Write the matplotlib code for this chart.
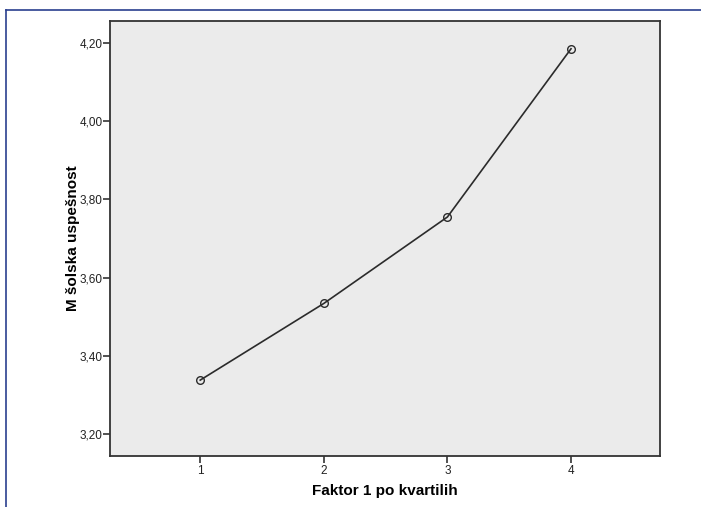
import matplotlib
matplotlib.use("Agg")
import matplotlib.pyplot as plt
from matplotlib.lines import Line2D
from matplotlib.ticker import FuncFormatter

plt.rcParams['font.family'] = ['Liberation Sans', 'DejaVu Sans']

kvartili = [1, 2, 3, 4]
uspesnost = [3.338, 3.534, 3.755, 4.185]
y_ticks = [3.20, 3.40, 3.60, 3.80, 4.00, 4.20]

fig = plt.figure(figsize=(7.01, 5.07), dpi=100)
ax = fig.add_axes([110 / 701, 1 - 456 / 507, 550 / 701, 435 / 507])
ax.set_facecolor('#ebebeb')

ax.plot(kvartili, uspesnost, color='#2b2b2b', linewidth=1.2,
        marker='o', markersize=5.5, markerfacecolor='none',
        markeredgecolor='#2b2b2b', markeredgewidth=1.0)

ax.set_xlim(0.27, 4.72)
ax.set_ylim(3.144, 4.256)
ax.set_xticks(kvartili)
ax.set_yticks(y_ticks)
ax.yaxis.set_major_formatter(FuncFormatter(lambda v, p: f"{v:.2f}".replace('.', ',')))
ax.tick_params(direction='out', length=5, width=1.2, color='#333333',
               labelsize=8.5, labelcolor='#222222', pad=1.5)
ax.tick_params(axis='y', pad=0.5)

for s in ax.spines.values():
    s.set_color('#333333')
    s.set_linewidth(1.3)

ax.set_xlabel('Faktor 1 po kvartilih', fontsize=11, fontweight='bold', labelpad=5)
ax.set_ylabel('M šolska uspešnost', fontsize=11, fontweight='bold')
ax.yaxis.set_label_coords(-0.0545, 0.5)

# modri okvir
fig.add_artist(Line2D([6 / 701, 1], [1 - 10 / 507, 1 - 10 / 507],
                      transform=fig.transFigure, color='#2a3f8f', linewidth=1.2))
fig.add_artist(Line2D([6 / 701, 6 / 701], [1 - 10 / 507, 0],
                      transform=fig.transFigure, color='#2a3f8f', linewidth=1.2))

fig.savefig('out.png', dpi=100)
